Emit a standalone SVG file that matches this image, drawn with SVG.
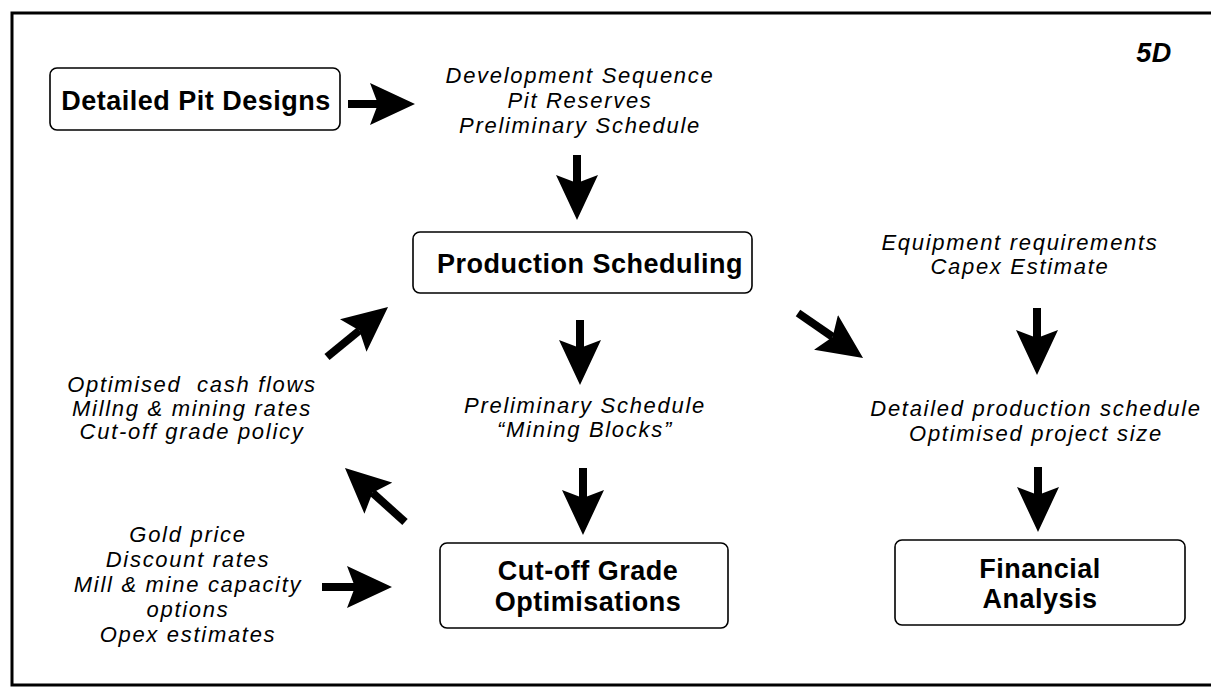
<svg xmlns="http://www.w3.org/2000/svg" width="1211" height="687" viewBox="0 0 1211 687">
<style>
.box{fill:#fff;stroke:#000;stroke-width:1.6}
.bt{font-family:"Liberation Sans",Arial,sans-serif;font-weight:bold;font-size:27px;letter-spacing:0.5px;text-anchor:middle;fill:#000}
.it{font-family:"Liberation Sans",Arial,sans-serif;font-style:italic;font-size:22px;letter-spacing:1.7px;text-anchor:middle;fill:#000}
.arr{stroke:#000;stroke-width:8;fill:none;marker-end:url(#head)}
</style>
<defs>
<marker id="head" markerUnits="userSpaceOnUse" markerWidth="46" markerHeight="42" viewBox="0 0 46 42" refX="8" refY="21" orient="auto">
<path d="M0,0 L45,21 L0,42 L8,21 Z" fill="#000"/>
</marker>
</defs>
<rect width="1211" height="687" fill="#fff"/>
<path d="M1211,13 H12 V685 H1211" fill="none" stroke="#000" stroke-width="3"/>
<text class="bt" x="1154" y="62" font-style="italic" font-size="26">5D</text>

<g id="detailed-pit-designs">
<rect class="box" x="50" y="68" width="290" height="62" rx="7"/>
<text class="bt" x="196" y="110">Detailed Pit Designs</text>
</g>
<g id="development-text">
<text class="it" x="580" y="83">Development Sequence</text>
<text class="it" x="580" y="108">Pit Reserves</text>
<text class="it" x="580" y="133">Preliminary Schedule</text>
</g>
<g id="production-scheduling">
<rect class="box" x="413" y="232" width="339" height="61" rx="7"/>
<text class="bt" x="590" y="273">Production Scheduling</text>
</g>
<g id="equipment-text">
<text class="it" x="1020" y="250">Equipment requirements</text>
<text class="it" x="1020" y="274">Capex Estimate</text>
</g>
<g id="optimised-text">
<text class="it" x="192" y="392" xml:space="preserve">Optimised  cash flows</text>
<text class="it" x="192" y="416">Millng &amp; mining rates</text>
<text class="it" x="192" y="439">Cut-off grade policy</text>
</g>
<g id="preliminary-text">
<text class="it" x="585" y="413">Preliminary Schedule</text>
<text class="it" x="585" y="437">“Mining Blocks”</text>
</g>
<g id="detailed-production-text">
<text class="it" x="1036" y="416">Detailed production schedule</text>
<text class="it" x="1036" y="441">Optimised project size</text>
</g>
<g id="inputs-text">
<text class="it" x="188" y="542">Gold price</text>
<text class="it" x="188" y="567">Discount rates</text>
<text class="it" x="188" y="592">Mill &amp; mine capacity</text>
<text class="it" x="188" y="617">options</text>
<text class="it" x="188" y="642">Opex estimates</text>
</g>
<g id="cutoff-grade-optimisations">
<rect class="box" x="440" y="543" width="288" height="85" rx="7"/>
<text class="bt" x="588" y="580">Cut-off Grade</text>
<text class="bt" x="588" y="611">Optimisations</text>
</g>
<g id="financial-analysis">
<rect class="box" x="895" y="540" width="290" height="85" rx="7"/>
<text class="bt" x="1040" y="578">Financial</text>
<text class="bt" x="1040" y="608">Analysis</text>
</g>

<g id="connectors">
<line class="arr" x1="348" y1="104" x2="378" y2="104"/>
<line class="arr" x1="577" y1="155" x2="577" y2="183"/>
<line class="arr" x1="580" y1="320" x2="580" y2="348"/>
<line class="arr" x1="583" y1="468" x2="583" y2="498"/>
<line class="arr" x1="1037" y1="308" x2="1037" y2="338"/>
<line class="arr" x1="1038" y1="467" x2="1038" y2="495"/>
<line class="arr" x1="798" y1="313" x2="832.6" y2="336.9"/>
<line class="arr" x1="327" y1="357" x2="359.4" y2="330.5"/>
<line class="arr" x1="405" y1="522" x2="372.5" y2="492.8"/>
<line class="arr" x1="322" y1="587" x2="355" y2="587"/>
</g>
</svg>
